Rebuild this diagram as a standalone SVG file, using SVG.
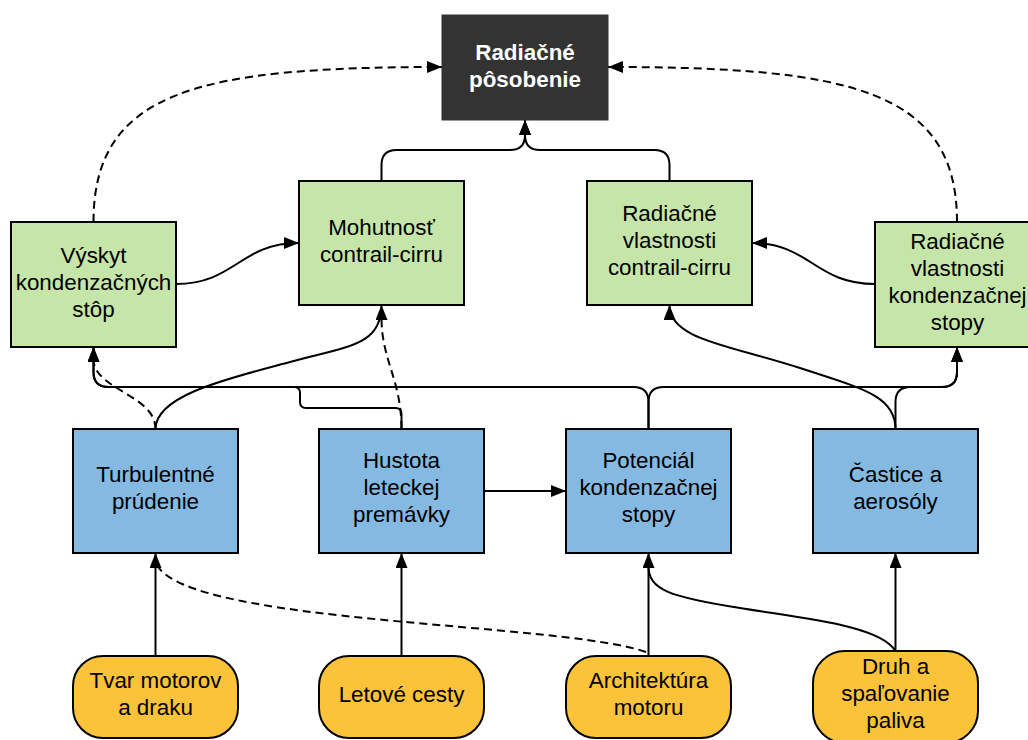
<svg xmlns="http://www.w3.org/2000/svg" width="1028" height="740" viewBox="0 0 1028 740">
<defs>
<style>
.t{font-family:"Liberation Sans",Arial,sans-serif;font-size:22.4px;fill:#000;text-anchor:middle}
.tb{font-family:"Liberation Sans",Arial,sans-serif;font-size:22.4px;font-weight:bold;fill:#fff;text-anchor:middle}
.g{fill:#c5e6a8;stroke:#000;stroke-width:2}
.b{fill:#84b9e2;stroke:#000;stroke-width:2}
.y{fill:#fbc33a;stroke:#000;stroke-width:2}
.d{fill:#333333;stroke:#333333;stroke-width:1}
.c{fill:none;stroke:#000;stroke-width:2}
.cd{fill:none;stroke:#000;stroke-width:2;stroke-dasharray:8 5}
.a{marker-end:url(#arr)}
</style>
<marker id="arr" viewBox="0 0 15 12" refX="15" refY="6" markerWidth="15" markerHeight="12" markerUnits="userSpaceOnUse" orient="auto">
<path d="M0,0 L15,6 L0,12 Z" fill="#000"/>
</marker>
</defs>
<rect width="1028" height="740" fill="#fff"/>

<g id="connectors">
<path class="cd a" d="M93.5,222 C93.5,90 200,67 442,67"/>
<path class="cd a" d="M957,222 C957,90 850,67 608,67"/>
<path class="c a" d="M381.5,181 L381.5,165 Q381.5,150 396.5,150 L510,150 Q525,150 525,135 L525,120"/>
<path class="c a" d="M669.5,181 L669.5,165 Q669.5,150 654.5,150 L540,150 Q525,150 525,135 L525,120"/>
<path class="c a" d="M176,284 C235,284 240,243 299,243"/>
<path class="c a" d="M875,284 C815,284 810,243 752,243"/>
<path class="cd" d="M155.5,429 C155.5,395 95,390 93.5,360"/>
<path class="c a" d="M155.5,429 C155.5,395 230,378 290,362 C350,346 381.5,345 381.5,305"/>
<path class="cd" d="M401.5,429 C401.5,380 381.5,360 381.5,318"/>
<path class="c a" d="M401.5,429 L401.5,414 Q401.5,408 395.5,408 L306,408 Q300,408 300,402 L300,393 Q300,387 294,387 L108.5,387 Q93.5,387 93.5,372 L93.5,347"/>
<path class="c a" d="M648.5,429 L648.5,402 Q648.5,387 633.5,387 L108.5,387 Q93.5,387 93.5,372 L93.5,347"/>
<path class="c a" d="M648.5,429 L648.5,402 Q648.5,387 663.5,387 L942,387 Q957,387 957,372 L957,347"/>
<path class="c a" d="M895.5,429 L895.5,402 Q895.5,387 910.5,387 L942,387 Q957,387 957,372 L957,347"/>
<path class="c a" d="M895.5,429 C895.5,395 860,388 800,368 C730,345 669.5,340 669.5,305"/>
<path class="c a" d="M484,491 L566,491"/>
<path class="c a" d="M155.5,656 L155.5,553"/>
<path class="c a" d="M401.5,656 L401.5,553"/>
<path class="c a" d="M648.5,656 L648.5,553"/>
<path class="c a" d="M895.5,651 L895.5,553"/>
<path class="cd" d="M646,652 C560,622 190,625 157,565"/>
<path class="c" d="M895.5,651 C880,625 800,618 740,608 C670,597 648.5,590 648.5,566"/>
</g>

<g id="radiacne-posobenie">
<rect class="d" x="442" y="15" width="166" height="105"/>
<text class="tb" x="525" y="59.5">Radiačné</text>
<text class="tb" x="525" y="86.5">pôsobenie</text>
</g>

<g id="vyskyt">
<rect class="g" x="11" y="222" width="165" height="125"/>
<text class="t" x="93.5" y="263">Výskyt</text>
<text class="t" x="93.5" y="290">kondenzačných</text>
<text class="t" x="93.5" y="317">stôp</text>
</g>

<g id="mohutnost">
<rect class="g" x="299" y="181" width="165" height="124"/>
<text class="t" x="381.5" y="235">Mohutnosť</text>
<text class="t" x="381.5" y="262">contrail-cirru</text>
</g>

<g id="rad-vlast-cirru">
<rect class="g" x="587" y="181" width="165" height="124"/>
<text class="t" x="669.5" y="221">Radiačné</text>
<text class="t" x="669.5" y="248">vlastnosti</text>
<text class="t" x="669.5" y="275">contrail-cirru</text>
</g>

<g id="rad-vlast-stopy">
<rect class="g" x="875" y="222" width="165" height="125"/>
<text class="t" x="957.5" y="249">Radiačné</text>
<text class="t" x="957.5" y="276">vlastnosti</text>
<text class="t" x="957.5" y="303">kondenzačnej</text>
<text class="t" x="957.5" y="330">stopy</text>
</g>

<g id="turbulentne">
<rect class="b" x="73" y="429" width="165" height="124"/>
<text class="t" x="155.5" y="482">Turbulentné</text>
<text class="t" x="155.5" y="509">prúdenie</text>
</g>

<g id="hustota">
<rect class="b" x="319" y="429" width="165" height="124"/>
<text class="t" x="401.5" y="468">Hustota</text>
<text class="t" x="401.5" y="495">leteckej</text>
<text class="t" x="401.5" y="522">premávky</text>
</g>

<g id="potencial">
<rect class="b" x="566" y="429" width="165" height="124"/>
<text class="t" x="648.5" y="468">Potenciál</text>
<text class="t" x="648.5" y="495">kondenzačnej</text>
<text class="t" x="648.5" y="522">stopy</text>
</g>

<g id="castice">
<rect class="b" x="813" y="429" width="165" height="124"/>
<text class="t" x="895.5" y="482">Častice a</text>
<text class="t" x="895.5" y="509">aerosóly</text>
</g>

<g id="tvar">
<rect class="y" x="73" y="656" width="165" height="82" rx="30" ry="30"/>
<text class="t" x="155.5" y="688">Tvar motorov</text>
<text class="t" x="155.5" y="715">a draku</text>
</g>

<g id="letove">
<rect class="y" x="319" y="656" width="165" height="82" rx="30" ry="30"/>
<text class="t" x="401.5" y="702">Letové cesty</text>
</g>

<g id="architektura">
<rect class="y" x="566" y="656" width="165" height="82" rx="30" ry="30"/>
<text class="t" x="648.5" y="688">Architektúra</text>
<text class="t" x="648.5" y="715">motoru</text>
</g>

<g id="druh">
<rect class="y" x="813" y="651" width="165" height="92" rx="32" ry="32"/>
<text class="t" x="895.5" y="674">Druh a</text>
<text class="t" x="895.5" y="701">spaľovanie</text>
<text class="t" x="895.5" y="728">paliva</text>
</g>
</svg>
